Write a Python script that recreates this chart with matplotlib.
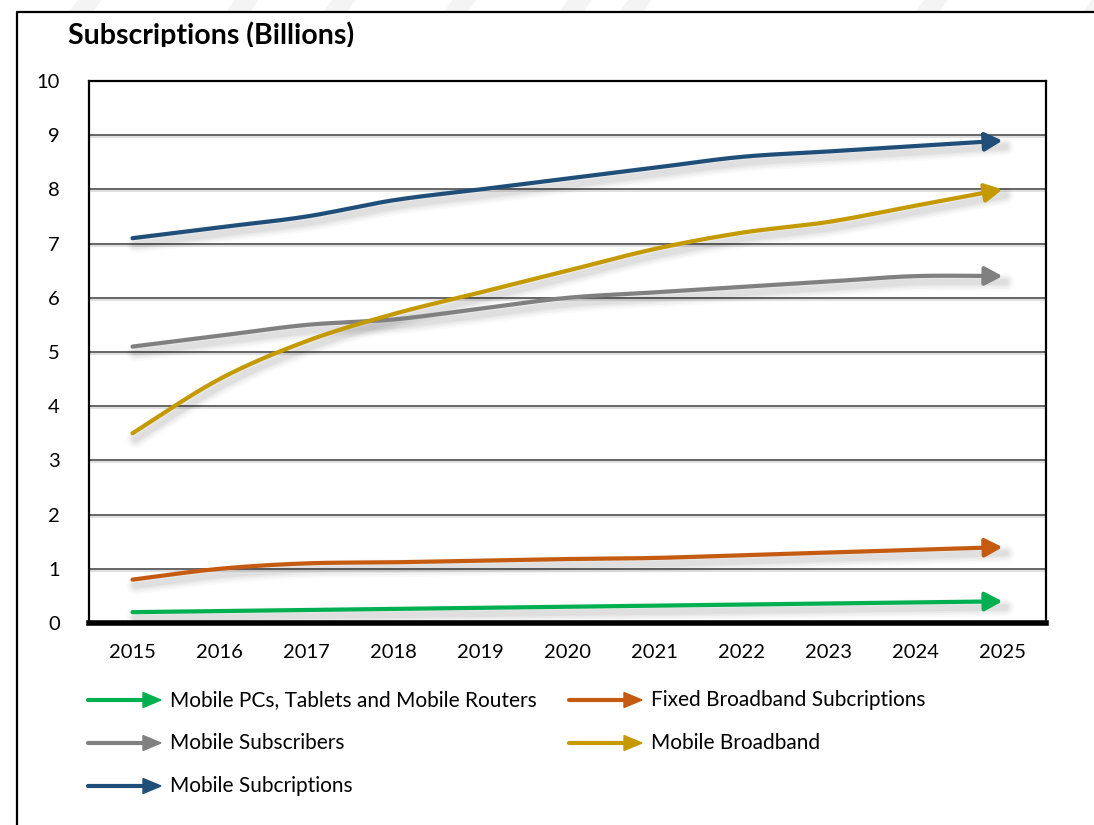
import numpy as np
import matplotlib.pyplot as plt
import matplotlib.transforms as mtransforms
from matplotlib.lines import Line2D
from matplotlib.patches import Polygon

plt.rcParams['font.family'] = ['Lato', 'DejaVu Sans']

# data (billions)
years = ['2015', '2016', '2017', '2018', '2019', '2020', '2021', '2022', '2023', '2024', '2025']
mobile_pcs = [0.2, 0.22, 0.24, 0.26, 0.28, 0.3, 0.32, 0.34, 0.36, 0.38, 0.4]
fixed_broadband = [0.8, 1.0, 1.1, 1.12, 1.15, 1.18, 1.2, 1.25, 1.3, 1.35, 1.4]
mobile_subscribers = [5.1, 5.3, 5.5, 5.6, 5.8, 6.0, 6.1, 6.2, 6.3, 6.4, 6.4]
mobile_broadband = [3.5, 4.5, 5.2, 5.7, 6.1, 6.5, 6.9, 7.2, 7.4, 7.7, 8.0]
mobile_subscriptions = [7.1, 7.3, 7.5, 7.8, 8.0, 8.2, 8.4, 8.6, 8.7, 8.8, 8.9]

series = [mobile_pcs, fixed_broadband, mobile_subscribers, mobile_broadband, mobile_subscriptions]
names = ['Mobile PCs, Tablets and Mobile Routers', 'Fixed Broadband Subcriptions',
         'Mobile Subscribers', 'Mobile Broadband', 'Mobile Subcriptions']
colors = ['#00B050', '#C55A11', '#808080', '#C49A00', '#1F4E79']


def smooth(y, n=30):
    # catmull-rom curve through the points, like a spreadsheet "smoothed line"
    y = np.asarray(y, float)
    x = np.arange(len(y), dtype=float)
    px = np.r_[x[0], x, x[-1]]
    py = np.r_[y[0], y, y[-1]]
    xs, ys = [], []
    t = np.linspace(0, 1, n, endpoint=False)
    for i in range(1, len(x)):
        for p, out in ((px, xs), (py, ys)):
            p0, p1, p2, p3 = p[i - 1], p[i], p[i + 1], p[i + 2]
            out.extend(0.5 * (2 * p1 + (-p0 + p2) * t
                              + (2 * p0 - 5 * p1 + 4 * p2 - p3) * t ** 2
                              + (-p0 + 3 * p1 - 3 * p2 + p3) * t ** 3))
    xs.append(x[-1])
    ys.append(y[-1])
    return np.array(xs), np.array(ys)


fig = plt.figure(figsize=(10.94, 8.25), dpi=100)
ax = fig.add_axes([89 / 1094, 1 - 623 / 825, (1046 - 89) / 1094, (623 - 81) / 825])

# gridlines with a faint shadow
shadow_grid = mtransforms.offset_copy(ax.transData, fig=fig, x=0, y=-2, units='dots')
for v in range(1, 10):
    ax.plot([-0.5, 10.5], [v, v], color='#dadada', lw=1.2, transform=shadow_grid, zorder=1)
    ax.plot([-0.5, 10.5], [v, v], color='#595959', lw=1.3, zorder=1.5)

for vals, col in zip(series, colors):
    xs, ys = smooth(vals)
    cut = xs <= len(vals) - 1 - 0.22
    # soft drop shadow
    sh = mtransforms.offset_copy(ax.transData, fig=fig, x=3, y=-6, units='dots')
    for lw, a in ((13, 0.02), (10, 0.03), (7, 0.035), (4.5, 0.04)):
        ax.plot(xs, ys, color='black', lw=lw, alpha=a, transform=sh,
                solid_capstyle='round', zorder=2)
    ax.plot(xs[cut], ys[cut], color=col, lw=3, solid_capstyle='round', zorder=3)
    ax.annotate('', xy=(xs[-1], ys[-1]), xytext=(xs[cut][-1], ys[cut][-1]),
                arrowprops=dict(arrowstyle='-|>,head_length=0.75,head_width=0.4',
                                mutation_scale=14, color=col, lw=3,
                                shrinkA=0, shrinkB=0), zorder=3)

ax.set_xlim(-0.5, 10.5)
ax.set_ylim(0, 10)
ax.set_xticks(range(len(years)))
ax.set_xticklabels(years)
ax.set_yticks(range(0, 11))
ax.tick_params(axis='both', length=0, labelsize=14.5, colors='black')
ax.tick_params(axis='x', pad=15)
ax.tick_params(axis='y', pad=21)
for s in ('left', 'top', 'right'):
    ax.spines[s].set_linewidth(1.6)
    ax.spines[s].set_color('black')
ax.spines['bottom'].set_linewidth(4)
ax.spines['bottom'].set_color('black')
ax.spines['bottom'].set_capstyle('projecting')

# title, clipped at the top of the plot region
t = fig.text(68 / 1094, 1 - 44 / 825, 'Subscriptions (Billions)', fontsize=20.5,
             fontweight='bold', va='baseline', ha='left')
t.set_clip_on(True)
t.set_clip_box(mtransforms.Bbox([[0, 825 - 47], [1094, 825]]))

# legend drawn as arrows + text
legend_pos = [(88, 700), (569, 700), (88, 743), (569, 743), (88, 786)]
for (lx, ly), name, col in zip(legend_pos, names, colors):
    y = 1 - ly / 825
    fig.add_artist(Line2D([(lx) / 1094, (lx + 58) / 1094], [y, y], color=col, lw=3,
                          solid_capstyle='round'))
    fig.patches.append(Polygon([[(lx + 55) / 1094, y + 7.5 / 825],
                                [(lx + 73) / 1094, y],
                                [(lx + 55) / 1094, y - 7.5 / 825]],
                               closed=True, color=col, transform=fig.transFigure))
    fig.text((lx + 82) / 1094, y, name, fontsize=15, va='center', ha='left')

# outer frame (left and top)
fig.add_artist(Line2D([17 / 1094, 17 / 1094, 1093 / 1094], [0, 1 - 12 / 825, 1 - 12 / 825],
                      color='black', lw=1.6))

# faint banner stripes along the top edge
for x0 in (30, 90, 127, 173, 217, 240, 353, 417):
    px = x0 * 2.62
    fig.patches.append(Polygon([[px / 1094, 1], [(px + 22) / 1094, 1],
                                [(px + 14) / 1094, 1 - 11 / 825], [(px - 8) / 1094, 1 - 11 / 825]],
                               closed=True, color='#f4f4f4', transform=fig.transFigure, zorder=0))

fig.savefig('out.png', dpi=100)
